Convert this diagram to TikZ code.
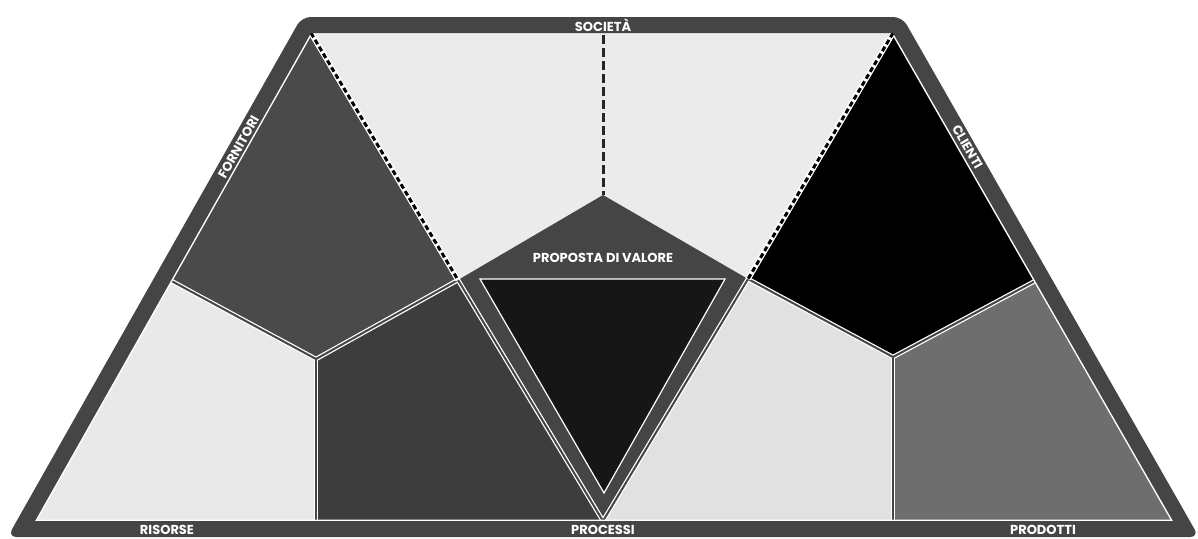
\documentclass[tikz,border=0pt]{standalone}
\usepackage{fontspec}
\newfontfamily\labfont{Poppins}
\definecolor{framec}{HTML}{454545}
\definecolor{socc}{HTML}{EBEBEB}
\definecolor{fornc}{HTML}{4A4A4A}
\definecolor{risc}{HTML}{E9E9E9}
\definecolor{procLc}{HTML}{3D3D3D}
\definecolor{procRc}{HTML}{E1E1E1}
\definecolor{clic}{HTML}{000000}
\definecolor{prodc}{HTML}{6E6E6E}
\definecolor{triac}{HTML}{161616}
\tikzset{
  lab/.style={text=white, font=\labfont\bfseries\fontsize{13}{14}\selectfont, inner sep=0pt},
  sepwhite/.style={draw=white, line width=4.5pt, line cap=round},
  sepdark/.style={draw=framec, line width=2pt, line cap=round},
  dashwhite/.style={draw=white, line width=5.5pt},
  dashblack/.style={draw=black, line width=3pt, dash pattern=on 5pt off 3pt},
}
\begin{document}
\begin{tikzpicture}[x=1pt,y=-1pt]
\useasboundingbox (0,0) rectangle (1198,538);
% inner trapezoid
\coordinate (TL) at (311,33);
\coordinate (TR) at (893,33);
\coordinate (BR) at (1173,521);
\coordinate (BL) at (35,521);
% outer
\coordinate (OTL) at (301.7,17);
\coordinate (OTR) at (902.3,17);
\coordinate (OBR) at (1199,537);
\coordinate (OBL) at (7.6,537);
% inner points
\coordinate (A) at (171.5,281);
\coordinate (B) at (1035,281);
\coordinate (P1) at (316,359);
\coordinate (P1b) at (316,521);
\coordinate (P2) at (893,357);
\coordinate (P2b) at (893,521);
\coordinate (KL) at (458,280);
\coordinate (KR) at (748,279);
\coordinate (KT) at (603,195);
\coordinate (KB) at (603,521);
\coordinate (T1) at (480,279);
\coordinate (T2) at (725,279);
\coordinate (T3) at (604,493);
\coordinate (DT) at (603,35);
% cells
\fill[socc] (TL) -- (TR) -- (KR) -- (KT) -- (KL) -- cycle;
\fill[fornc] (TL) -- (KL) -- (P1) -- (A) -- cycle;
\fill[risc] (A) -- (P1) -- (P1b) -- (BL) -- cycle;
\fill[procLc] (P1) -- (KL) -- (KB) -- (P1b) -- cycle;
\fill[framec] (KL) -- (KT) -- (KR) -- (KB) -- cycle;
\fill[procRc] (KR) -- (P2) -- (P2b) -- (KB) -- cycle;
\fill[clic] (TR) -- (B) -- (P2) -- (KR) -- cycle;
\fill[prodc] (B) -- (BR) -- (P2b) -- (P2) -- cycle;
% separators
\foreach \a/\b in {A/P1, P1/KL, P1/P1b, KL/KB, KR/KB, KR/P2, P2/B, P2/P2b}
  \draw[sepwhite] (\a) -- (\b);
\foreach \a/\b in {A/P1, P1/KL, P1/P1b, KL/KB, KR/KB, KR/P2, P2/B, P2/P2b}
  \draw[sepdark] (\a) -- (\b);
\draw[draw=white, line width=3pt] (TL) -- (BL) -- (BR) -- (TR);
% dashed borders
\draw[dashwhite] (TL) -- (KL);
\draw[dashwhite] (TR) -- (KR);
\draw[dashblack] (TL) -- (KL);
\draw[dashblack] (TR) -- (KR);
\draw[draw=black!85, line width=3pt, dash pattern=on 9pt off 4pt] (DT) -- (KT);
% value triangle
\filldraw[fill=triac, draw=white, line width=1.2pt, line join=miter] (T1) -- (T2) -- (T3) -- cycle;
% frame ring
\fill[framec, even odd rule] [rounded corners=9pt] (OTL) -- (OTR) -- (OBR) -- (OBL) -- cycle
  [sharp corners] (TL) -- (TR) -- (BR) -- (BL) -- cycle;
% labels
\node[lab] (soc) at (603,25) {SOCIETÀ};
\node[lab] (pv) at (603,258) {PROPOSTA DI VALORE};
\node[lab, rotate=60.5] (forn) at (238.5,147) {FORNITORI};
\node[lab, rotate=-60.2] (cli) at (967.5,147) {CLIENTI};
\node[lab] (ris) at (167,529.5) {RISORSE};
\node[lab] (proc) at (603,529.5) {PROCESSI};
\node[lab] (prod) at (1043,529.5) {PRODOTTI};
\end{tikzpicture}
\end{document}
